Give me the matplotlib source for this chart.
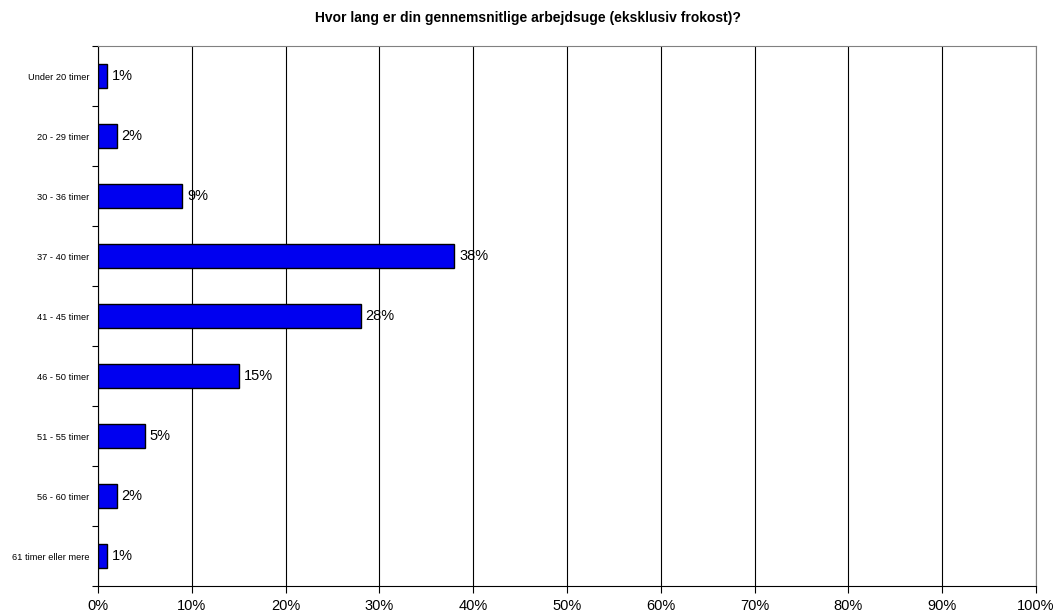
import numpy as np
import matplotlib
matplotlib.use('Agg')
import matplotlib.pyplot as plt

plt.rcParams['font.family'] = ['Liberation Sans', 'DejaVu Sans']

# Data
categories = ['Under 20 timer', '20 - 29 timer', '30 - 36 timer', '37 - 40 timer',
              '41 - 45 timer', '46 - 50 timer', '51 - 55 timer', '56 - 60 timer',
              '61 timer eller mere']
values = [1, 2, 9, 38, 28, 15, 5, 2, 1]
xticks = [0, 10, 20, 30, 40, 50, 60, 70, 80, 90, 100]

fig = plt.figure(figsize=(10.56, 6.16), dpi=100)
ax = fig.add_axes([98 / 1056, 30 / 616, 938 / 1056, 540 / 616])

y = np.arange(len(categories))
ax.barh(y, values, height=0.4, color='#0000f0', edgecolor='black', linewidth=1, zorder=3)

for yi, v in zip(y, values):
    ax.text(v + 0.5, yi, f'{v}%', va='center', ha='left', fontsize=10.5, zorder=4)

ax.set_xlim(0, 100)
ax.set_ylim(len(categories) - 0.5, -0.5)
ax.set_xticks(xticks)
ax.set_xticklabels([f'{t}%' for t in xticks], fontsize=10.5)
ax.xaxis.grid(True, color='black', linewidth=0.8, zorder=0)

ax.set_yticks(y)
ax.set_yticklabels(categories, fontsize=6.7)
ax.tick_params(axis='y', which='major', length=0, pad=6)
ax.set_yticks(np.arange(-0.5, len(categories), 1.0), minor=True)
ax.tick_params(axis='y', which='minor', length=4, direction='out', width=0.8)
ax.tick_params(axis='x', length=5, direction='out', width=0.8, pad=4)

ax.spines['left'].set_color('black')
ax.spines['bottom'].set_color('black')
ax.spines['top'].set_color('#808080')
ax.spines['right'].set_color('#808080')

fig.suptitle('Hvor lang er din gennemsnitlige arbejdsuge (eksklusiv frokost)?',
             fontsize=10, fontweight='bold', y=1 - 18 / 616, va='center')

fig.savefig('out.png', dpi=100)
